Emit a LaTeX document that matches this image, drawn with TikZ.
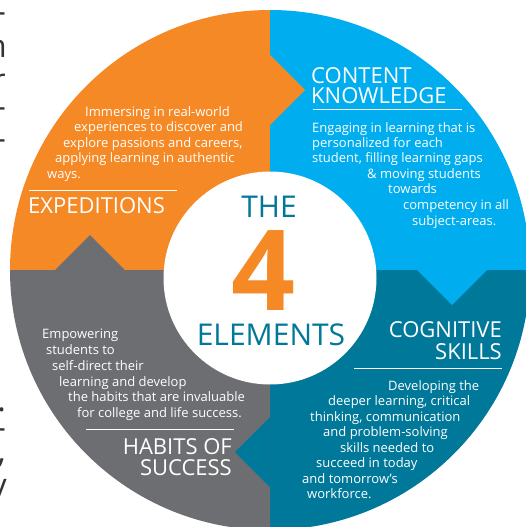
\documentclass[tikz,border=0pt]{standalone}
\usepackage{fontspec}
\setmainfont{Open Sans}
\usetikzlibrary{calc}
\definecolor{expOrange}{HTML}{F58925}
\definecolor{ckBlue}{HTML}{00ADEE}
\definecolor{csTeal}{HTML}{00789A}
\definecolor{hsGray}{HTML}{6D6E71}
\definecolor{cutText}{HTML}{333333}

\begin{document}
\begin{tikzpicture}[x=1pt,y=-1pt,
  body/.style={anchor=base west,inner sep=0,text=white,font=\fontsize{13}{15.7}\selectfont},
  head/.style={inner sep=0,text=white,font=\fontsize{22}{24}\selectfont},
  rule/.style={draw=white,line width=0.9pt},
  title/.style={inner sep=0,anchor=base,text=csTeal,font=\fontsize{30}{32}\selectfont},
  cut/.style={inner sep=0,text=cutText,font=\fontsize{32}{34}\selectfont}]
\useasboundingbox[fill=white] (0,0) rectangle (526,527);
\coordinate (c) at (270,270);
% four quadrants
\foreach \col/\a in {expOrange/180,ckBlue/270,csTeal/0,hsGray/90} {
  \fill[\col] (c) -- ++(\a:260) arc[start angle=\a,end angle=\a+90,radius=260] -- cycle;
}
% arrow notches
\fill[expOrange] (270,55) -- (305,90) -- (270,125) -- cycle;
\fill[ckBlue] (417,270) -- (452,305) -- (487,270) -- cycle;
\fill[csTeal] (270,417) -- (235,452) -- (270,487) -- cycle;
\fill[hsGray] (55,270) -- (90,235) -- (125,270) -- cycle;
% centre disc
\fill[white] (270,278) circle[radius=106.5];
\node[title] (the) at (269,217) {THE};
\node[inner sep=0,anchor=base,text=expOrange,font=\fontsize{112}{112}\selectfont\bfseries] (four) at (263,310) {4};
\node[title] (elements) at (271,345) {ELEMENTS};

% headings and rules
\node[head,anchor=base west] (expH) at (28,213) {EXPEDITIONS};
\draw[rule] (29,190) -- (177,190);
\node[head,anchor=base west] (ckH1) at (311,83) {CONTENT};
\node[head,anchor=base west] (ckH2) at (311,103) {KNOWLEDGE};
\draw[rule] (313,109) -- (462,109);
\node[head,anchor=base east] (csH1) at (502,337) {COGNITIVE};
\node[head,anchor=base east] (csH2) at (502,359) {SKILLS};
\draw[rule] (354,368) -- (502,368);
\node[head,anchor=base east] (hsH1) at (232,454) {HABITS OF};
\node[head,anchor=base east] (hsH2) at (232,475) {SUCCESS};
\draw[rule] (86,429) -- (234,429);

% body lines
\foreach \x/\y/\t [count=\i] in {85/116/{Immersing in real-world},74/131/{experiences to discover and},
  63/147/{explore passions and careers,},55/162/{applying learning in authentic},47/178/{ways.}}
  \node[body] (exp\i) at (\x,\y) {\t};
\foreach \x/\y/\t [count=\i] in {312/132/{Engaging in learning that is},312/147/{personalized for each},
  312/162/{student, filling learning gaps},367/178/{\& moving students},388/193/{towards},
  403/209/{competency in all},412/225/{subject-areas.}}
  \node[body] (ck\i) at (\x,\y) {\t};
\foreach \x/\y/\t [count=\i] in {388/390/{Developing the},328/405/{deeper learning, critical},
  310/421/{thinking, communication},323/436/{and problem-solving},340/452/{skills needed to},
  316/467/{succeed in today},302/483/{and tomorrow’s},307/498/{workforce.}}
  \node[body] (cs\i) at (\x,\y) {\t};
\foreach \x/\y/\t [count=\i] in {42/338/{Empowering},46/354/{students to},52/370/{self-direct their},
  59/386/{learning and develop},68/401/{the habits that are invaluable},77/417/{for college and life success.}}
  \node[body] (hs\i) at (\x,\y) {\t};

% cut-off text at the left edge
\foreach \y [count=\i] in {18,113,145,434} \node[cut,anchor=east] (dash\i) at (6,\y) {-};
\node[cut,anchor=base east] (cutH) at (7,58) {h};
\node[cut,anchor=base east] (cutR) at (6,92) {r};
\node[cut,anchor=base east] (cutDot) at (6,411) {.};
\node[cut,anchor=base east] (cutComma) at (6,462) {,};
\node[cut,anchor=base east] (cutY) at (7,496) {y};
\end{tikzpicture}
\end{document}
